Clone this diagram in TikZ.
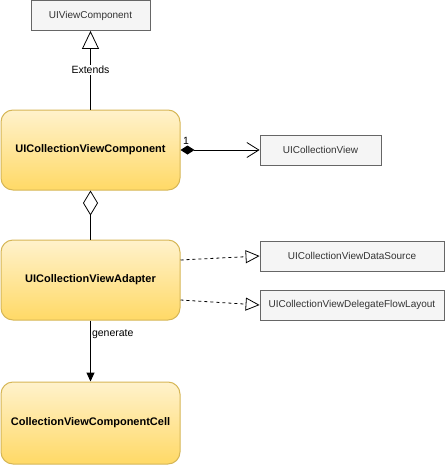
\documentclass[tikz,border=0pt]{standalone}
\usepackage{fontspec}
\setmainfont{Liberation Sans}
\usetikzlibrary{arrows.meta}
\definecolor{ytop}{HTML}{FFF2CC}
\definecolor{ybot}{HTML}{FFD966}
\definecolor{yline}{HTML}{D6B656}
\definecolor{gfill}{HTML}{F5F5F5}
\definecolor{gline}{HTML}{666666}
\definecolor{gtext}{HTML}{333333}
\begin{document}
\begin{tikzpicture}[x=1pt,y=-1pt,
  classbox/.style={draw=yline, line width=1pt, rounded corners=12pt,
    top color=ytop, bottom color=ybot, inner sep=0pt,
    minimum width=179pt, minimum height=80pt,
    font=\fontsize{11}{13}\selectfont\bfseries},
  refbox/.style={draw=gline, line width=0.8pt, fill=gfill, text=gtext,
    inner sep=0pt, minimum height=30pt,
    font=\fontsize{10}{12}\selectfont},
  link/.style={line width=1pt, draw=black},
  extends/.style={link, -{Triangle[fill=white, length=18pt, width=17pt, line width=0.8pt]}},
  compose/.style={link, {Diamond[length=14pt, width=9pt]}-{Straight Barb[length=12pt, width=15pt, line width=0.8pt]}},
  aggregate/.style={link, {Diamond[fill=white, length=25pt, width=15pt, line width=0.8pt]}-},
  realize/.style={link, line width=0.8pt, dash pattern=on 3pt off 3pt,
    -{Triangle[fill=white, length=14pt, width=13pt, line width=0.8pt, sep=0pt]}},
  generates/.style={link, -{Triangle[length=9pt, width=8pt]}},
  edgelabel/.style={font=\fontsize{10.5}{12}\selectfont, text=black, inner sep=1pt}
]
\useasboundingbox (0,0) rectangle (445,466);

% interface / base types
\node[refbox, minimum width=119pt] (uiview) at (90.5,15.5) {UIViewComponent};
\node[refbox, minimum width=121pt] (cv) at (320.5,150) {UICollectionView};
\node[refbox, minimum width=184pt] (ds) at (352,256) {UICollectionViewDataSource};
\node[refbox, minimum width=184pt] (dfl) at (352,305) {UICollectionViewDelegateFlowLayout};

% main classes
\node[classbox] (comp) at (90.5,150) {UICollectionViewComponent};
\node[classbox] (adapter) at (90.5,280) {UICollectionViewAdapter};
\node[classbox, minimum height=82pt] (cell) at (90.5,423) {CollectionViewComponentCell};

% relations
\draw[extends] (comp.north) -- node[edgelabel, fill=white] {Extends} (uiview.south);
\draw[compose] (comp.east) -- (cv.west);
\node[edgelabel, anchor=south west] (mult) at (182,146) {1};
\draw[aggregate] (comp.south) -- (adapter.north);
\draw[realize] ([yshift=20pt]adapter.east) -- (ds.west);
\draw[realize] ([yshift=-20pt]adapter.east) -- (dfl.west);
\draw[generates] (adapter.south) -- node[edgelabel, anchor=west, pos=0.22] {generate} (cell.north);
\end{tikzpicture}
\end{document}
